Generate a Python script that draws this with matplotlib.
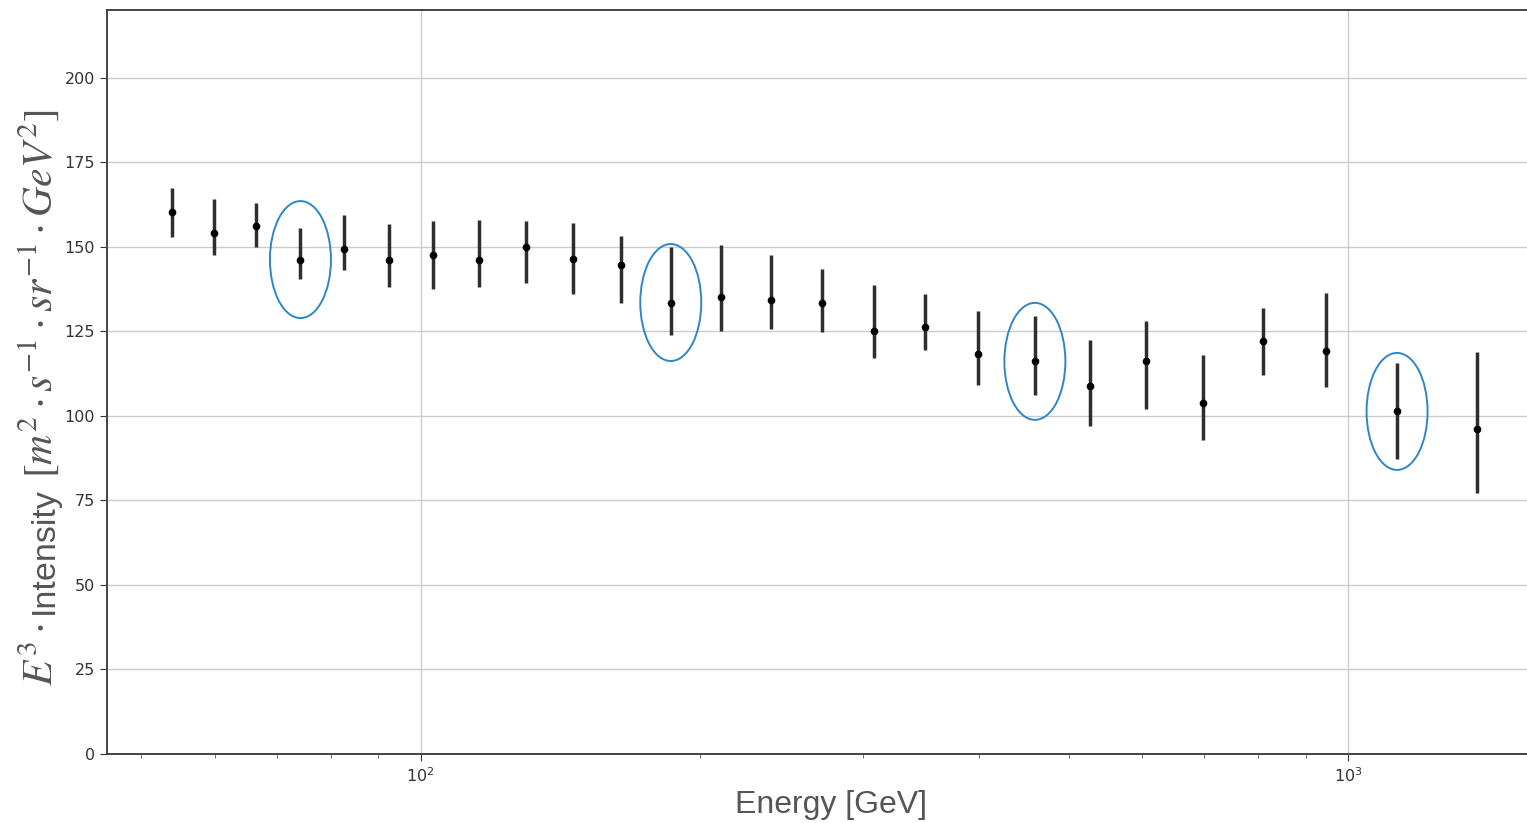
import matplotlib
matplotlib.use("Agg")
import matplotlib.pyplot as plt
from matplotlib.patches import Ellipse
from matplotlib.transforms import ScaledTranslation

plt.rcParams['mathtext.fontset'] = 'stix'

energy = [54.0, 59.9, 66.5, 74.2, 82.6, 92.4, 103.0, 115.5, 129.8, 145.9, 164.3,
          186.1, 210.7, 238.5, 270.7, 308.2, 349.8, 399.0, 459.6, 526.8, 605.5,
          697.7, 809.6, 946.9, 1129.6, 1377.0]
intensity = [160.4, 154.2, 156.0, 146.2, 149.2, 146.2, 147.7, 146.2, 149.8, 146.5, 144.5,
             133.5, 135.0, 134.1, 133.5, 125.0, 126.4, 118.2, 116.1, 108.7, 116.1,
             103.7, 122.0, 119.3, 101.3, 96.0]
err_upper = [167.5, 164.0, 163.0, 155.4, 159.5, 156.6, 157.5, 158.0, 157.5, 156.9, 153.3,
             150.0, 150.4, 147.7, 143.3, 138.6, 135.9, 130.9, 129.4, 122.3, 127.9,
             117.9, 132.0, 136.2, 115.5, 119.0]
err_lower = [153.0, 147.7, 149.8, 140.6, 143.0, 138.0, 137.4, 138.0, 139.4, 135.9, 133.5,
             124.0, 125.0, 125.8, 124.7, 117.0, 119.4, 109.0, 106.1, 96.9, 101.9,
             92.8, 112.0, 108.4, 87.1, 77.1]
highlighted = [3, 11, 18, 24]

x_label = 'Energy [GeV]'
y_label_parts = [r'$E^3\cdot$', 'Intensity', r'$[m^2\cdot s^{-1}\cdot sr^{-1}\cdot GeV^2]$']

yerr = [[v - lo for v, lo in zip(intensity, err_lower)],
        [hi - v for v, hi in zip(intensity, err_upper)]]

W, H = 1527, 823
fig = plt.figure(figsize=(W / 100, H / 100), dpi=100)
ax = fig.add_axes([107 / W, 1 - 754 / H, (1555 - 107) / W, (754 - 10) / H])

ax.errorbar(energy, intensity, yerr=yerr, fmt='o', color='black', markersize=4.5,
            ecolor='#2e2e2e', elinewidth=2.5, capsize=0, zorder=3)

for i in highlighted:
    e = Ellipse((0, 0), 0.61, 1.17, fill=False, edgecolor='#2f86c6', linewidth=1.4,
                transform=fig.dpi_scale_trans + ScaledTranslation(energy[i], intensity[i], ax.transData),
                zorder=4)
    ax.add_patch(e)

ax.set_xscale('log')
ax.set_xlim(45.9, 1672)
ax.set_ylim(0, 220)
ax.set_yticks([0, 25, 50, 75, 100, 125, 150, 175, 200])
ax.grid(True, which='major', color='#cccccc', linewidth=1.0)
ax.set_axisbelow(True)

for side in ['left', 'bottom', 'top']:
    ax.spines[side].set_color('#444444')
    ax.spines[side].set_linewidth(1.4)
ax.spines['right'].set_visible(False)

ax.tick_params(axis='both', which='major', labelsize=11.5, colors='#333333', length=5)
ax.tick_params(axis='x', which='minor', length=3, colors='#555555')

ax.set_xlabel(x_label, fontsize=23, color='#555555', family='Liberation Sans', labelpad=4)

# y label: text part and math parts at different sizes, laid out end to end
sizes = [30, 24.5, 30]
gaps = [9, 9, 0]
fig.canvas.draw()
renderer = fig.canvas.get_renderer()
widths = []
for s, fs in zip(y_label_parts, sizes):
    t = fig.text(0, 0, s, fontsize=fs, family='Liberation Sans')
    widths.append(t.get_window_extent(renderer).width)
    t.remove()
total = sum(widths) + sum(gaps)
center_y = H - 397.5
y = center_y - total / 2
x_base = 53
for s, fs, w, g in zip(y_label_parts, sizes, widths, gaps):
    fig.text(x_base / W, y / H, s, fontsize=fs, family='Liberation Sans', color='#555555',
             rotation=90, rotation_mode='anchor', ha='left', va='baseline')
    y += w + g

fig.savefig('out.png', dpi=100)
